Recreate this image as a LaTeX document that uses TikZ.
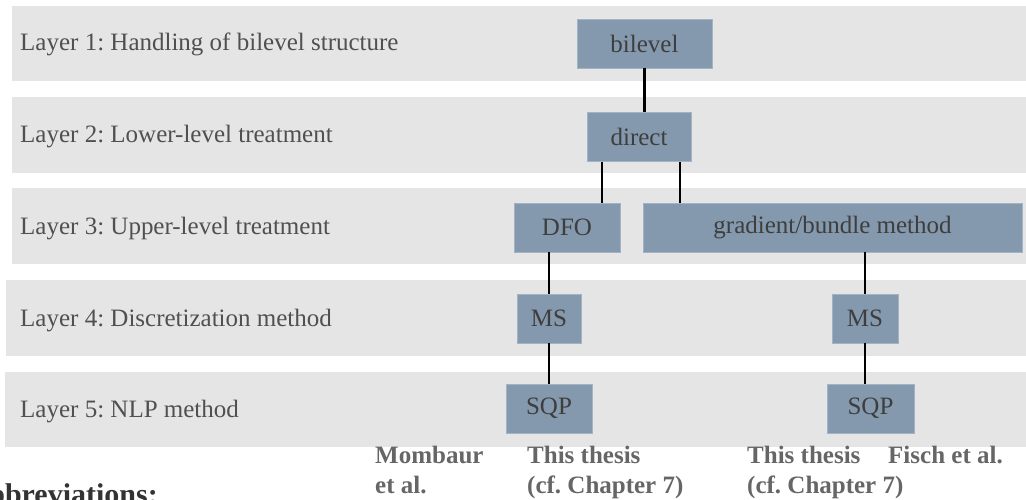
\documentclass[tikz,border=0pt]{standalone}
\usepackage{fontspec}
\setmainfont{Liberation Serif}
\frenchspacing
\definecolor{bandgray}{HTML}{E5E5E5}
\definecolor{boxblue}{HTML}{8499AD}
\definecolor{boxedge}{HTML}{A3B3C3}
\definecolor{labeltext}{HTML}{505050}
\definecolor{boxtext}{HTML}{3E3E3E}
\definecolor{reftext}{HTML}{666666}
\begin{document}
\begin{tikzpicture}[x=1pt,y=-1pt,
  band/.style={fill=bandgray},
  layerlabel/.style={anchor=base west,inner sep=0pt,text=labeltext,
    font=\fontsize{25}{30}\selectfont},
  method/.style={rectangle,fill=boxblue,draw=boxedge,line width=0.6pt,
    inner sep=0pt,minimum height=49pt,text=boxtext,
    font=\fontsize{25}{30}\selectfont},
  link/.style={line width=2.2pt,black},
  reflabel/.style={anchor=base west,inner sep=0pt,text=reftext,
    font=\fontsize{25}{30}\selectfont\bfseries}]
\useasboundingbox (0,0) rectangle (1026,500);
\clip (0,0) rectangle (1026,500);

% layer bands
\fill[band] (12,6)   rectangle (1026,81);
\fill[band] (12,97)  rectangle (1026,173);
\fill[band] (12,188) rectangle (1026,264);
\fill[band] (6,280)  rectangle (1026,356);
\fill[band] (5,372)  rectangle (1026,447);

% layer titles
\node[layerlabel] (l1) at (20,51)  {Layer 1: Handling of bilevel structure};
\node[layerlabel] (l2) at (20,143) {Layer 2: Lower-level treatment};
\node[layerlabel] (l3) at (20,234) {Layer 3: Upper-level treatment};
\node[layerlabel] (l4) at (20,326) {Layer 4: Discretization method};
\node[layerlabel] (l5) at (20,417) {Layer 5: NLP method};

% method boxes
\node[method,minimum width=135pt] (bilevel) at (644.5,43.5) {bilevel};
\node[method,minimum width=104pt] (direct)  at (639,137)    {direct};
\node[method,minimum width=106pt] (dfo)     at (567,227.5)  {DFO};
\node[method,minimum width=379pt] (grad)    at (832.5,227.5){gradient/bundle method};
\node[method,minimum width=64pt]  (ms1)     at (549,318.5)  {MS};
\node[method,minimum width=66pt]  (ms2)     at (865,318.5)  {MS};
\node[method,minimum width=86pt]  (sqp1)    at (549,408.5)  {SQP};
\node[method,minimum width=87pt]  (sqp2)    at (870.5,408.5){SQP};

% connections between layers
\draw[link] (bilevel.south) -- (bilevel.south |- direct.north);
\draw[link] ([xshift=-37pt]direct.south) -- ([xshift=-37pt]direct.south |- dfo.north);
\draw[link] ([xshift=41pt]direct.south) -- ([xshift=41pt]direct.south |- grad.north);
\draw[link] (ms1.north |- dfo.south) -- (ms1.north);
\draw[link] (ms2.north |- grad.south) -- (ms2.north);
\draw[link] (ms1.south) -- (ms1.south |- sqp1.north);
\draw[link] (ms2.south) -- (ms2.south |- sqp2.north);

% references below the columns
\node[reflabel] (r1a) at (375,463) {Mombaur};
\node[reflabel] (r1b) at (375,493) {et al.};
\node[reflabel] (r2a) at (527,463) {This thesis};
\node[reflabel] (r2b) at (527,493) {(cf. Chapter 7)};
\node[reflabel] (r3a) at (747,463) {This thesis};
\node[reflabel] (r3b) at (747,493) {(cf. Chapter 7)};
\node[reflabel] (r4a) at (888,463) {Fisch et al.};

% heading of the abbreviation list, running off the lower left corner
\node[anchor=base east,inner sep=0pt,text=black!80,
  font=\fontsize{30}{36}\selectfont\bfseries] (abbr) at (158,504) {Abbreviations:};
\end{tikzpicture}
\end{document}
